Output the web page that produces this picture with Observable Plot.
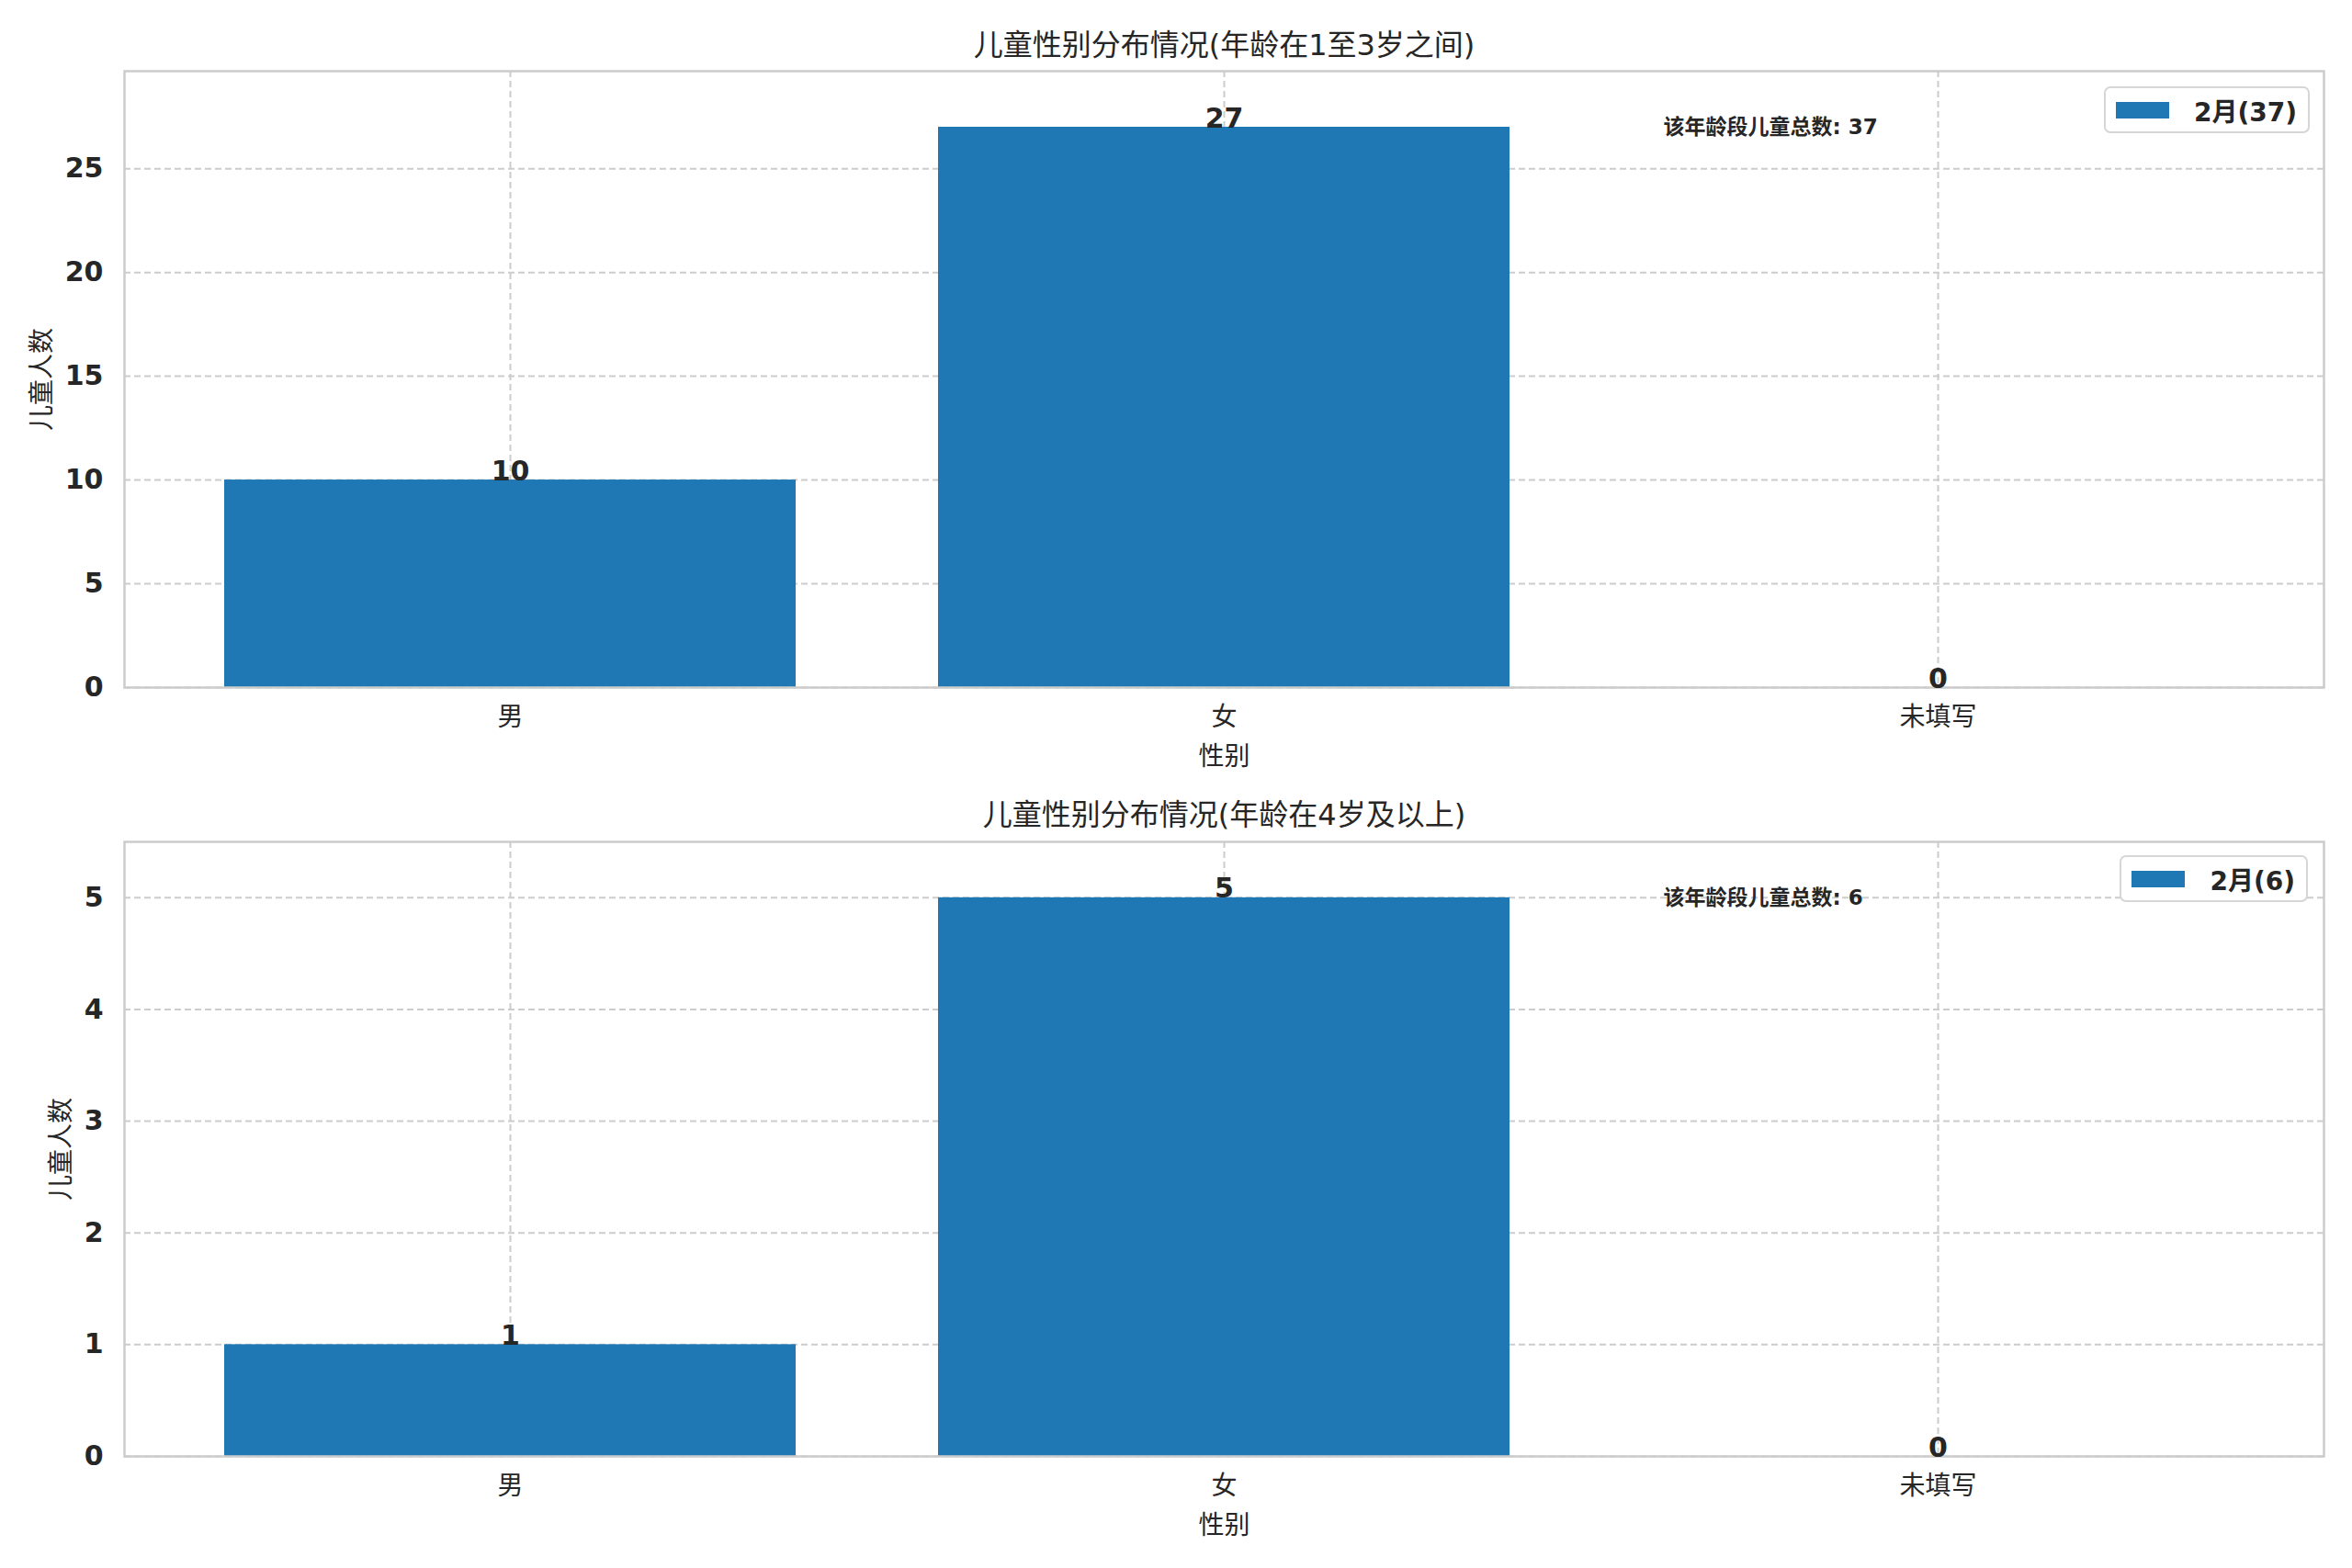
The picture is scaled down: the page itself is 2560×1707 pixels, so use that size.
<!DOCTYPE html>
<html>
<head>
<meta charset="utf-8">
<script src="https://cdn.jsdelivr.net/npm/d3@7"></script>
<script src="https://cdn.jsdelivr.net/npm/@observablehq/plot@0.6"></script>
<style>
  body { margin: 0; background: #fff; }
  #wrap { position: relative; width: 2560px; height: 1707px; background: #fff; }
  #wrap svg { display: block; }
  .legend { position: absolute; display: flex; align-items: center; background: #fff;
    border: 2px solid #d6d6d6; border-radius: 7px; padding: 0 12px 0 11px; height: 51px; box-sizing: border-box;
    font-family: "DejaVu Sans", "Noto Sans CJK SC", sans-serif; font-weight: bold; font-size: 28px; color: #262626; }
  .legend .sw { width: 58px; height: 18px; background: #1f77b4; margin-right: 27px; }
</style>
</head>
<body>
<div id="wrap"></div>
<script>
const categories = ["男", "女", "未填写"];
const valuesYoung = [10, 27, 0];
const valuesOld = [1, 5, 0];
const titles = ["儿童性别分布情况(年龄在1至3岁之间)", "儿童性别分布情况(年龄在4岁及以上)"];
const legendLabels = ["2月(37)", "2月(6)"];
const totals = [37, 6];
const yTicksYoung = [0, 5, 10, 15, 20, 25];
const yTicksOld = [0, 1, 2, 3, 4, 5];
const xLabel = "性别";
const yLabel = "儿童人数";
const annotPrefix = "该年龄段儿童总数";

const FONT = '"DejaVu Sans", "Noto Sans CJK SC", sans-serif';
const INK = "#262626";
const GRID = {stroke: "#cccccc", strokeOpacity: 1, strokeWidth: 2, strokeDasharray: "7,4"};

function chart({values, title, total, yTicks, height, marginTop, marginBottom, titleDy, ylabelDx}) {
  const data = categories.map((c, i) => ({cat: c, value: values[i]}));
  const max = d3.max(values);
  return Plot.plot({
    width: 2560, height, marginLeft: 135, marginRight: 31, marginTop, marginBottom,
    style: {fontFamily: FONT, color: INK, background: "white", overflow: "visible"},
    x: {domain: categories, paddingInner: 0.2, paddingOuter: 0.14, label: null},
    y: {domain: [0, max * 1.1], label: null},
    marks: [
      Plot.gridY(yTicks, GRID),
      Plot.gridX(categories, GRID),
      Plot.barY(data, {x: "cat", y: "value", fill: "#1f77b4"}),
      Plot.frame({stroke: "#cccccc", strokeWidth: 2.5}),
      Plot.axisY({ticks: yTicks, tickFormat: d3.format("d"), tickSize: 0, tickPadding: 23,
        fontSize: 30, fontWeight: "bold", label: null}),
      Plot.axisX({tickSize: 0, tickPadding: 22, fontSize: 28, label: null}),
      Plot.text(data, {x: "cat", y: "value", text: d => String(d.value), lineAnchor: "bottom",
        fontSize: 30, fontWeight: "bold", fill: INK}),
      Plot.text([title], {frameAnchor: "top", dy: titleDy, fontSize: 32, lineAnchor: "middle", fill: INK}),
      Plot.text([xLabel], {frameAnchor: "bottom", dy: 76, fontSize: 28, lineAnchor: "middle", fill: INK}),
      Plot.text([yLabel], {frameAnchor: "left", dx: ylabelDx, rotate: -90, textAnchor: "middle",
        fontSize: 28, lineAnchor: "middle", fill: INK}),
      Plot.text([max], {y: d => d, frameAnchor: "left", dx: 1675, textAnchor: "start", lineAnchor: "middle",
        text: () => `${annotPrefix}: ${total}`, fontSize: 23, fontWeight: "bold", fill: INK})
    ]
  });
}

const wrap = document.getElementById("wrap");
wrap.appendChild(chart({values: valuesYoung, title: titles[0], total: totals[0], yTicks: yTicksYoung,
  height: 855, marginTop: 77, marginBottom: 107, titleDy: -28, ylabelDx: -89}));
wrap.appendChild(chart({values: valuesOld, title: titles[1], total: totals[1], yTicks: yTicksOld,
  height: 852, marginTop: 61, marginBottom: 122, titleDy: -29, ylabelDx: -68}));

const legendPos = [{right: 46, top: 94}, {right: 48, top: 931}];
legendLabels.forEach((lab, i) => {
  const el = document.createElement("div");
  el.className = "legend";
  el.style.right = legendPos[i].right + "px";
  el.style.top = legendPos[i].top + "px";
  el.innerHTML = `<div class="sw"></div><span></span>`;
  el.querySelector("span").textContent = lab;
  wrap.appendChild(el);
});
</script>
</body>
</html>
